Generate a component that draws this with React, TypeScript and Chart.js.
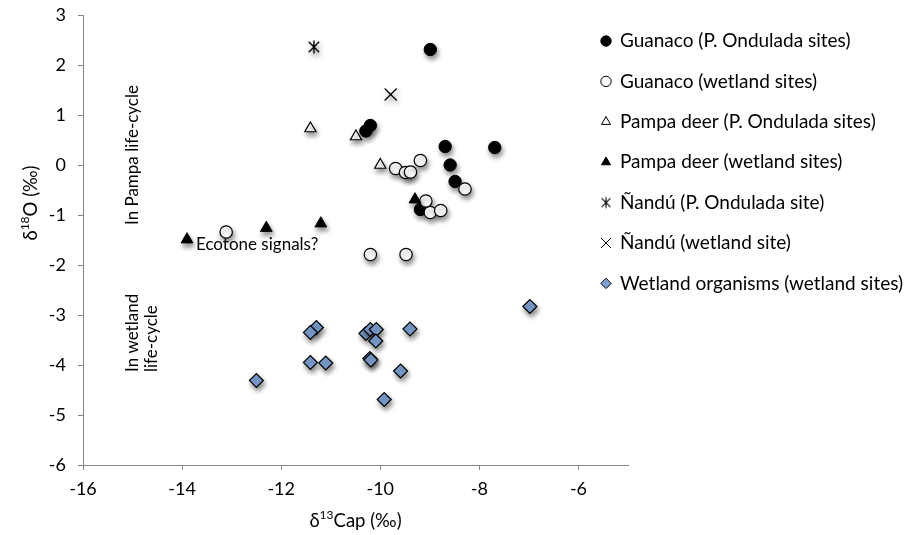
import React, { useEffect, useRef } from "react";
import { Chart, registerables } from "chart.js";
import { drawPoint } from "chart.js/helpers";

Chart.register(...registerables);

type P = [number, number];

// ---- data (δ13C, δ18O) ----
const guanacoOndulada: P[] = [
  [-8.99, 2.31], [-10.2, 0.79], [-10.29, 0.68], [-8.69, 0.37], [-7.69, 0.35],
  [-8.59, 0.0], [-8.49, -0.33], [-9.19, -0.89],
];
const guanacoWetland: P[] = [
  [-9.69, -0.07], [-9.49, -0.15], [-9.39, -0.14], [-9.19, 0.09], [-8.29, -0.48],
  [-9.08, -0.72], [-8.99, -0.95], [-8.78, -0.91], [-10.2, -1.79], [-9.48, -1.79],
  [-13.11, -1.34],
];
const deerOndulada: P[] = [[-11.41, 0.73], [-10.49, 0.57], [-10.0, 0.0]];
const deerWetland: P[] = [[-13.9, -1.49], [-12.3, -1.26], [-11.2, -1.17], [-9.3, -0.69]];
const nanduOndulada: P[] = [[-11.34, 2.36]];
const nanduWetland: P[] = [[-9.79, 1.41]];
const wetlandOrganisms: P[] = [
  [-12.5, -4.31], [-11.29, -3.25], [-11.41, -3.35], [-11.41, -3.95], [-11.1, -3.96],
  [-6.98, -2.83], [-10.29, -3.37], [-10.2, -3.29], [-10.08, -3.29], [-10.09, -3.52],
  [-9.4, -3.28], [-10.21, -3.87], [-10.19, -3.9], [-9.59, -4.12], [-9.92, -4.69],
];

const seriesNames = [
  "Guanaco (P. Ondulada sites)",
  "Guanaco (wetland sites)",
  "Pampa deer (P. Ondulada sites)",
  "Pampa deer (wetland sites)",
  "Ñandú (P. Ondulada site)",
  "Ñandú (wetland site)",
  "Wetland organisms (wetland sites)",
];

const xTicks = [-16, -14, -12, -10, -8, -6];
const yTicks = [-6, -5, -4, -3, -2, -1, 0, 1, 2, 3];
const xRange = [-16, -5];
const yRange = [-6, 3];

const annoPampa = "In Pampa life-cycle";
const annoWetland1 = "In wetland";
const annoWetland2 = "life-cycle";
const annoEcotone = "Ecotone signals?";

const FONT = "Lato";
const DIAMOND = "#7fa2d4";

function makeStar(r: number, lw: number) {
  const c = document.createElement("canvas");
  const s = Math.ceil(2 * r + 2 * lw + 2);
  c.width = s;
  c.height = s;
  const g = c.getContext("2d")!;
  const m = s / 2;
  g.strokeStyle = "#000";
  g.lineWidth = lw;
  g.beginPath();
  const d = r * 0.8;
  g.moveTo(m - d, m - d); g.lineTo(m + d, m + d);
  g.moveTo(m + d, m - d); g.lineTo(m - d, m + d);
  g.moveTo(m, m - r); g.lineTo(m, m + r);
  g.stroke();
  return c;
}

function drawSupText(ctx: CanvasRenderingContext2D, parts: { t: string; sup?: boolean }[], cx: number, cy: number, size: number) {
  const big = `${size}px ${FONT}`;
  const small = `${Math.round(size * 0.65)}px ${FONT}`;
  let w = 0;
  const widths = parts.map((p) => {
    ctx.font = p.sup ? small : big;
    const mw = ctx.measureText(p.t).width;
    w += mw;
    return mw;
  });
  let x = cx - w / 2;
  ctx.textAlign = "left";
  ctx.textBaseline = "middle";
  parts.forEach((p, i) => {
    ctx.font = p.sup ? small : big;
    ctx.fillText(p.t, x, p.sup ? cy - size * 0.3 : cy);
    x += widths[i];
  });
}

export default function App() {
  const ref = useRef<HTMLCanvasElement | null>(null);

  useEffect(() => {
    if (!ref.current) return;
    const star = makeStar(6.5, 1.4);
    const starSmall = makeStar(5.5, 1.1);
    const toPts = (a: P[]) => a.map(([x, y]) => ({ x, y }));

    const styles: any[] = [
      { pointStyle: "circle", pointRadius: 6.2, backgroundColor: "#000", borderColor: "#000", pointBorderWidth: 1 },
      { pointStyle: "circle", pointRadius: 6.2, backgroundColor: "#fff", borderColor: "#000", pointBorderWidth: 1.2 },
      { pointStyle: "triangle", pointRadius: 6.5, backgroundColor: "#fff", borderColor: "#000", pointBorderWidth: 1.2 },
      { pointStyle: "triangle", pointRadius: 6.8, backgroundColor: "#000", borderColor: "#000", pointBorderWidth: 1 },
      { pointStyle: star, pointRadius: 6.5, backgroundColor: "#000", borderColor: "#000", pointBorderWidth: 1.3 },
      { pointStyle: "crossRot", pointRadius: 8.5, backgroundColor: "#000", borderColor: "#000", pointBorderWidth: 1.3 },
      { pointStyle: "rectRot", pointRadius: 7, backgroundColor: DIAMOND, borderColor: "#000", pointBorderWidth: 1.2 },
    ];
    const data = [guanacoOndulada, guanacoWetland, deerOndulada, deerWetland, nanduOndulada, nanduWetland, wetlandOrganisms];

    const datasets = data.map((d, i) => ({
      label: seriesNames[i],
      data: toPts(d),
      showLine: false,
      order: 10 - i,
      pointHoverRadius: styles[i].pointRadius,
      ...styles[i],
    }));

    const shadowPlugin = {
      id: "shadow",
      beforeDatasetsDraw(chart: any) {
        const c = chart.ctx;
        c.save();
        c.shadowColor = "rgba(0,0,0,0.45)";
        c.shadowBlur = 5;
        c.shadowOffsetX = 1.5;
        c.shadowOffsetY = 3.5;
      },
      afterDatasetsDraw(chart: any) {
        chart.ctx.restore();
      },
    };

    const textPlugin = {
      id: "texts",
      afterDraw(chart: any) {
        const c: CanvasRenderingContext2D = chart.ctx;
        const area = chart.chartArea;
        c.save();
        c.fillStyle = "#000";
        // axis titles
        drawSupText(c, [{ t: "δ" }, { t: "13", sup: true }, { t: "Cap (‰)" }], (area.left + area.right) / 2, 521, 18.5);
        c.save();
        c.translate(31, 203);
        c.rotate(-Math.PI / 2);
        drawSupText(c, [{ t: "δ" }, { t: "18", sup: true }, { t: "O (‰)" }], 0, 0, 18.5);
        c.restore();

        // annotations
        c.font = `17px ${FONT}`;
        c.textAlign = "left";
        c.textBaseline = "middle";
        const rot = (t: string, x: number, y: number) => {
          c.save();
          c.translate(x, y);
          c.rotate(-Math.PI / 2);
          c.fillText(t, 0, 0);
          c.restore();
        };
        rot(annoPampa, 133, 225);
        rot(annoWetland1, 133, 372);
        rot(annoWetland2, 152, 372);
        c.fillText(annoEcotone, 196, 245);

        // legend
        const lx = 606;
        const tx = 620;
        const y0 = 41;
        const dy = 40.4;
        seriesNames.forEach((name, i) => {
          const y = y0 + i * dy;
          const s = styles[i];
          c.fillStyle = s.backgroundColor;
          c.strokeStyle = s.borderColor;
          c.lineWidth = 1;
          if (i === 4) {
            c.drawImage(starSmall, lx - starSmall.width / 2, y - starSmall.height / 2);
          } else {
            drawPoint(c, { pointStyle: s.pointStyle, radius: i === 5 ? 7 : 5.2, rotation: 0, borderWidth: 1 } as any, lx, y);
          }
          c.fillStyle = "#000";
          c.font = `19px ${FONT}`;
          c.textAlign = "left";
          c.textBaseline = "middle";
          c.fillText(name, tx, y);
        });
        c.restore();
      },
    };

    const axisColor = "#868686";
    const chart = new Chart(ref.current, {
      type: "scatter",
      data: { datasets },
      plugins: [shadowPlugin, textPlugin],
      options: {
        responsive: false,
        animation: false,
        layout: { padding: { top: 15, right: 278, left: 0, bottom: 0 } },
        plugins: { legend: { display: false }, tooltip: { enabled: false } },
        scales: {
          x: {
            type: "linear",
            min: xRange[0],
            max: xRange[1],
            afterBuildTicks: (s: any) => { s.ticks = xTicks.map((v) => ({ value: v })); },
            afterFit: (s: any) => {
              s.height = 70;
              s.paddingLeft = 0; s.paddingRight = 0; s.paddingTop = 0; s.paddingBottom = 0;
            },
            grid: { display: true, drawOnChartArea: false, drawTicks: true, tickLength: 5, color: axisColor },
            border: { display: true, color: axisColor, width: 1 },
            ticks: { font: { family: FONT, size: 18 }, color: "#000", padding: 8, maxRotation: 0 },
          },
          y: {
            type: "linear",
            min: yRange[0],
            max: yRange[1],
            afterBuildTicks: (s: any) => { s.ticks = yTicks.map((v) => ({ value: v })); },
            afterFit: (s: any) => {
              s.width = 83;
              s.paddingLeft = 0; s.paddingRight = 0; s.paddingTop = 0; s.paddingBottom = 0;
            },
            grid: { display: true, drawOnChartArea: false, drawTicks: true, tickLength: 5, color: axisColor },
            border: { display: true, color: axisColor, width: 1 },
            ticks: { font: { family: FONT, size: 18 }, color: "#000", padding: 12 },
          },
        },
      },
    });
    return () => chart.destroy();
  }, []);

  return (
    <div style={{ position: "fixed", left: 0, top: 0, width: 906, height: 535, background: "#fff" }}>
      <canvas ref={ref} width={906} height={535} style={{ display: "block" }} />
    </div>
  );
}
